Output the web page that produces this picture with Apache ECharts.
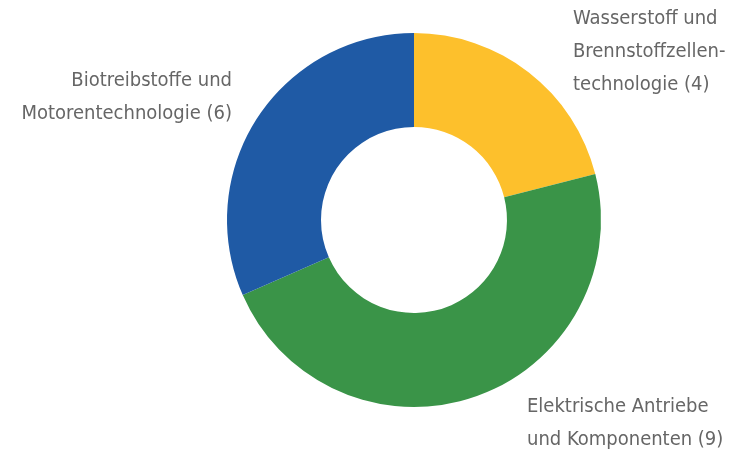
<!DOCTYPE html>
<html><head><meta charset="utf-8">
<script src="https://cdn.jsdelivr.net/npm/echarts@6/dist/echarts.min.js"></script>
<style>html,body{margin:0;padding:0;background:#fff}#c{width:736px;height:452px}</style>
</head><body><div id="c"></div>
<script>
const categories = ['Wasserstoff und\nBrennstoffzellen-\ntechnologie (4)', 'Elektrische Antriebe\nund Komponenten (9)', 'Biotreibstoffe und\nMotorentechnologie (6)'];
const values = [4, 9, 6];
const colors = ['#FDC02C', '#3A9448', '#1F5AA5'];
const labelPos = [
  {x: 573, y: 52, align: 'left'},
  {x: 527, y: 423, align: 'left'},
  {x: 232, y: 97, align: 'right'}
];
const chart = echarts.init(document.getElementById('c'), null, {renderer: 'canvas'});
chart.setOption({
  animation: false,
  series: [{
    type: 'pie',
    center: [414, 220],
    radius: [93, 187],
    startAngle: 90,
    clockwise: true,
    silent: true,
    itemStyle: {borderWidth: 0},
    label: {
      show: true,
      formatter: p => p.name,
      color: '#666666',
      fontFamily: '"DejaVu Sans Condensed", "Liberation Sans Narrow", sans-serif',
      fontSize: 20,
      lineHeight: 33,
      overflow: 'none',
      width: 400
    },
    labelLine: {show: false},
    labelLayout: p => Object.assign({verticalAlign: 'middle'}, labelPos[p.dataIndex]),
    data: categories.map((c, i) => ({name: c, value: values[i], itemStyle: {color: colors[i]}}))
  }]
});
</script></body></html>
